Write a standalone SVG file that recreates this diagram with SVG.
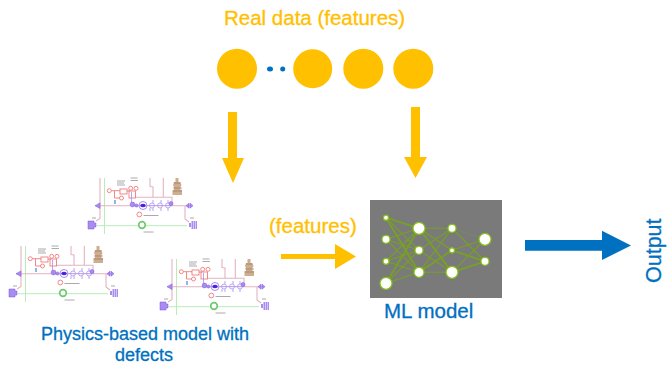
<svg xmlns="http://www.w3.org/2000/svg" xmlns:xlink="http://www.w3.org/1999/xlink" width="668" height="365" viewBox="0 0 668 365">
<style>
text{font-family:"Liberation Sans",Arial,sans-serif;font-size:20.500px;stroke-width:.3px}
.y{fill:#FFC000}.b{fill:#0070C0}
text.y{stroke:#FFC000}text.b{stroke:#0070C0}
.pk{fill:none;stroke:#e2b4c0;stroke-width:1.100}
.rd{fill:none;stroke:#f07c7c;stroke-width:.9}
.gr{fill:none;stroke:#b8ecb8;stroke-width:1}
.pu{fill:#a98cf0;stroke:#7a52e6;stroke-width:.5}
.e{stroke:#76a814;fill:none}
.n{fill:#fff;stroke:#86c21a;stroke-width:1.200}
</style>
<defs>
<filter id="soft" x="-5%" y="-5%" width="110%" height="110%"><feGaussianBlur stdDeviation="0.45"/></filter>
<g id="circuit" filter="url(#soft)">
<path class="gr" d="M104.500 178V234M97 225.700H138M146 225.700H187"/>
<circle cx="142" cy="225" r="3.300" fill="none" stroke="#6fca6f" stroke-width="1.700"/>
<path class="pk" d="M100 178V218.500L96 221M95 205.700H190M150 178V186.500L153 187V197M163.300 178V197M135 197.300H172V205M185 205.700V219L189 222"/>
<path fill="#c4a07e" d="M175.500 178h3v4h2l1 3-1 2v3h1.500v5h-9.500v-5h1.500v-3l-1-2 1-3h1.500z" opacity=".85"/>
<path d="M174 183h6M173 188h9M173 191h9" stroke="#94704e" stroke-width=".6" fill="none"/>
<path class="pu" d="M88 221h6v2h2v4h-2v2h-6z"/>
<path d="M197 221h-6v2h-2v4h2v2h6z" fill="#a98cf0"/>
<path d="M191.500 221v8M193.500 221v8M195.500 221v8" stroke="#f4efff" stroke-width=".6"/>
<path class="pu" d="M95 205.700l5-2.800v5.600zM186 205.700l3-2.500v5zM190 203.200l3 2.500-3 2.500z"/>
<circle cx="143" cy="205.500" r="4" fill="none" stroke="#9a80f0" stroke-width=".9"/>
<ellipse cx="143" cy="205.500" rx="2.800" ry="1.800" fill="#4a22e0"/>
<circle cx="132.500" cy="204.500" r="2.400" class="pu"/>
<circle cx="136.500" cy="205.500" r="1.600" class="pu"/>
<path d="M147 205.500h26" stroke="#b8a6f4" stroke-width=".9"/>
<g fill="none" stroke="#ac96f0" stroke-width=".8">
<circle cx="152" cy="205.500" r="2.500"/><circle cx="160" cy="205.500" r="2.500"/><circle cx="168" cy="205.500" r="2.500"/>
</g>
<circle cx="171" cy="203.500" r="2" class="pu"/>
<path d="M153 200v3M161 200v3M168 200v3M153 208v3M161 208v3M168 208v3M131.500 192v10M150 208v3" stroke="#9a80f0" stroke-width=".7"/>
<circle cx="139.300" cy="214.500" r="2.400" class="rd"/>
<circle cx="109.300" cy="190.700" r="2" class="rd"/>
<rect x="120" y="189" width="7" height="5" class="rd"/>
<path class="rd" d="M111.300 190.700H120M114.500 190.700V198H120M127 191h3"/>
<circle cx="121.500" cy="198" r="2" class="rd"/>
<rect x="129" y="191" width="6.500" height="7" class="rd"/>
<circle cx="130.700" cy="188.300" r="2" class="rd"/><circle cx="136" cy="188.300" r="2" class="rd"/>
<path d="M115 200v4" stroke="#7eaef0" stroke-width="1.800"/>
<path d="M117 181h8M117 183h7M117 185h8M130.500 178h7M130.500 180.500h7.500M143.500 215.500h15M143.500 232h10M92 218h4M190 218h4" stroke="#a0a0a0" stroke-width=".9"/>
</g>
</defs>
<g id="real-data-label"><text class="y" x="224" y="25">Real data (features)</text></g>
<g id="real-data">
<circle class="y" cx="237" cy="68.700" r="20"/>
<ellipse class="b" cx="270" cy="69" rx="3" ry="2.500"/>
<circle class="b" cx="282.700" cy="69" r="2.500"/>
<circle class="y" cx="312.700" cy="68.700" r="19.500"/>
<circle class="y" cx="363.300" cy="68.700" r="20"/>
<circle class="y" cx="413.300" cy="68.700" r="20"/>
</g>
<g id="physics-model">
<use xlink:href="#circuit" href="#circuit"/>
<use xlink:href="#circuit" href="#circuit" x="-79" y="68"/>
<use xlink:href="#circuit" href="#circuit" x="72" y="81"/>
<text class="b" x="41" y="340" style="font-size:18px">Physics-based model with</text>
<text class="b" x="115" y="361" style="font-size:18px">defects</text>
</g>
<g id="features-label"><text class="y" x="269" y="233">(features)</text></g>
<g id="ml-model">
<rect x="370" y="200" width="132" height="98" fill="#7a7a7a"/>
<g class="e" stroke-width="1.100" opacity=".85">
<path stroke-width="1.800" d="M386 217.700L419 228.300M386 217.700L419 272.300M419 228.300L386 283.300M419 228.300L452 272.300M419 272.300L452 250.300M452 250.300L485 261.300M452 272.300L485 261.300"/>
<path d="M386 217.700L419 250.300M386 239.300L419 228.300M386 239.300L419 250.300M386 239.300L419 272.300M386 261.300L419 228.300M386 261.300L419 250.300M386 261.300L419 272.300M386 283.300L419 250.300M386 283.300L419 272.300M419 228.300L452 228.300M419 228.300L452 250.300M419 250.300L452 228.300M419 250.300L452 272.300M419 272.300L452 228.300M419 272.300L452 272.300M452 228.300L485 261.300M452 250.300L485 239.300M452 272.300L485 239.300"/>
<path opacity=".4" d="M452 228.300L485 239.300"/>
</g>
<circle class="n" cx="386" cy="217.700" r="2.500"/>
<circle class="n" cx="386" cy="239.300" r="4"/>
<circle class="n" cx="386" cy="261.300" r="3"/>
<circle class="n" cx="386" cy="283.300" r="6"/>
<circle class="n" cx="419" cy="228.300" r="6"/>
<circle class="n" cx="419" cy="250.300" r="4"/>
<circle class="n" cx="419" cy="272.300" r="5"/>
<circle class="n" cx="452" cy="228.300" r="4"/>
<circle class="n" cx="452" cy="250.300" r="2.500"/>
<circle class="n" cx="452" cy="272.300" r="6"/>
<circle class="n" cx="485" cy="239.300" r="6"/>
<circle class="n" cx="485" cy="261.300" r="4"/>
<text class="b" x="384" y="318">ML model</text>
</g>
<g id="output-label"><text class="b" transform="translate(661 283) rotate(-90)" style="font-size:21.500px">Output</text></g>
<g id="connectors">
<path class="y" d="M228 112h9v46h7l-11 25-11-25h6z"/>
<path class="y" d="M411 107h9v50h7l-11.500 21-11.500-21h7z"/>
<path class="y" d="M281 254h54v-10l21 12.500-21 12.500v-10h-54z"/>
<path class="b" d="M525 240h77v-9.300l29 14.800-29 14.500v-9.300h-77z"/>
</g>
</svg>
